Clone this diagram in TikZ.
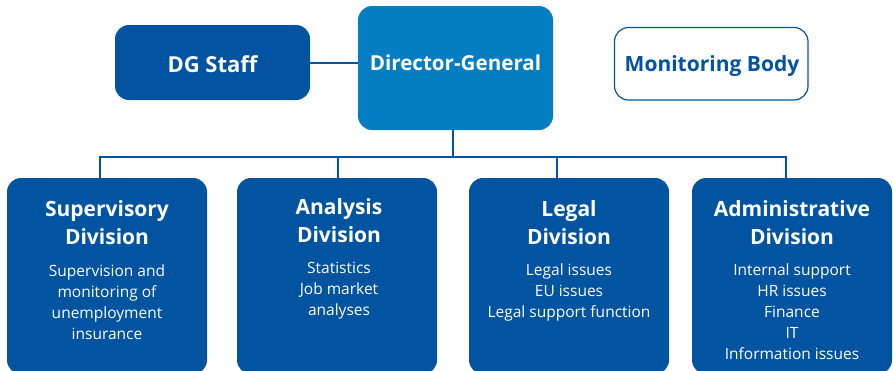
\documentclass[tikz,border=0pt]{standalone}
\usepackage{fontspec}
\setmainfont{Open Sans}
\definecolor{dblue}{HTML}{0254A0}
\definecolor{lblue}{HTML}{057DC2}
\begin{document}
\begin{tikzpicture}[x=1pt,y=-1pt,
  box/.style={draw=none,fill=dblue,rounded corners=14pt,text=white,align=center},
  conn/.style={draw=dblue,line width=2.6pt},
  ttl/.style={font=\fontsize{21}{28}\selectfont\bfseries},
  bdy/.style={font=\fontsize{15.5}{21}\selectfont}]
\useasboundingbox (0,0) rectangle (893,370);
% top row
\path[box,fill=dblue] (115,25) rectangle (310,100);
\node[text=white,font=\fontsize{22}{26}\selectfont\bfseries] (staff) at (212.5,64) {DG Staff};
\coordinate (staffR) at (310,63);
\path[box,fill=lblue] (358,6) rectangle (553,130);
\node[text=white,font=\fontsize{20.6}{24}\selectfont\bfseries] (dg) at (455.5,63) {Director-General};
\coordinate (dgL) at (358,63);
\coordinate (dgB) at (453,130);
\draw[draw=dblue,line width=1.2pt,fill=white,rounded corners=14pt] (614.5,27.5) rectangle (808,100);
\node[text=dblue,font=\fontsize{21}{25}\selectfont\bfseries] (mon) at (712,66) {Monitoring Body};
% connectors
\coordinate (bus) at (453,157);
\coordinate (b1) at (100,157);
\coordinate (b2) at (338,157);
\coordinate (b3) at (557,157);
\coordinate (b4) at (786,157);
\coordinate (t1) at (100,179);
\coordinate (t2) at (338,179);
\coordinate (t3) at (557,179);
\coordinate (t4) at (786,179);
\draw[conn] (staffR) -- (dgL);
\draw[conn] (dgB) -- (bus);
\draw[conn,line cap=rect] (b1) -- (b4);
\draw[conn] (b1) -- (t1);
\draw[conn] (b2) -- (t2);
\draw[conn] (b3) -- (t3);
\draw[conn] (b4) -- (t4);
% divisions
\path[box] (7,178) rectangle (207,374);
\path[box] (237,178) rectangle (437,374);
\path[box] (469,178) rectangle (669,374);
\path[box] (692,178) rectangle (892,374);
\node[text=white,align=center,anchor=north,ttl] (s1) at (107,197) {Supervisory\\Division};
\node[text=white,align=center,anchor=north,bdy] (s1b) at (107,261) {Supervision and\\monitoring of\\unemployment\\insurance};
\node[text=white,align=center,anchor=north,ttl] (s2) at (339,195) {Analysis\\Division};
\node[text=white,align=center,anchor=north,bdy] (s2b) at (339,259) {Statistics\\Job market\\analyses};
\node[text=white,align=center,anchor=north,ttl] (s3) at (569,197) {Legal\\Division};
\node[text=white,align=center,anchor=north,bdy] (s3b) at (569,260) {Legal issues\\EU issues\\Legal support function};
\node[text=white,align=center,anchor=north,ttl] (s4) at (792,197) {Administrative\\Division};
\node[text=white,align=center,anchor=north,bdy] (s4b) at (792,260) {Internal support\\HR issues\\Finance\\IT\\Information issues};
\end{tikzpicture}
\end{document}
